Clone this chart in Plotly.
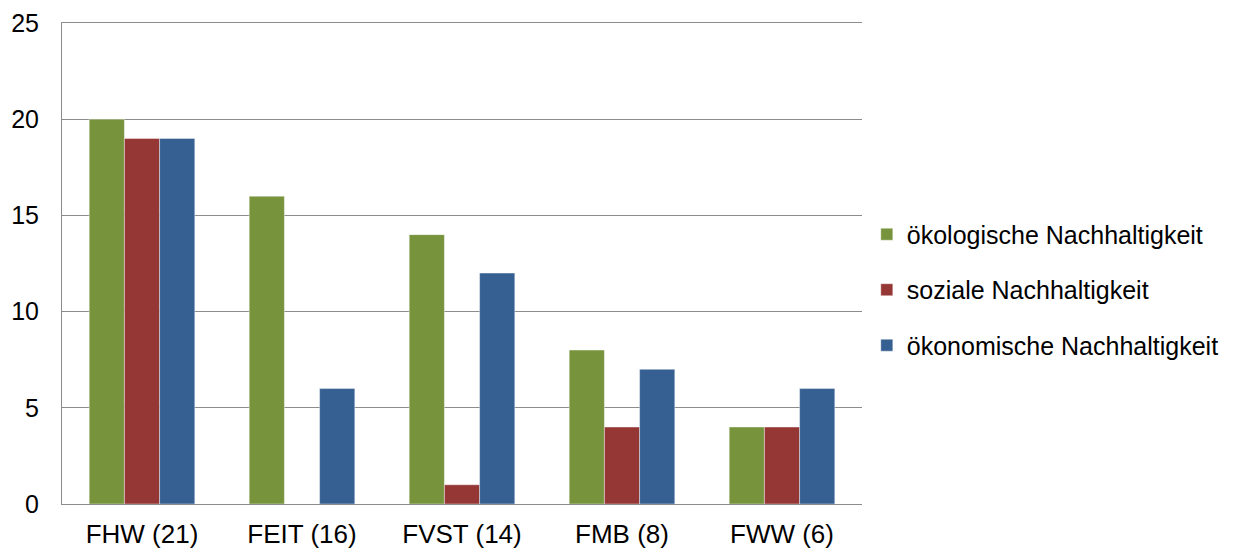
import plotly.graph_objects as go

categories = ["FHW (21)", "FEIT (16)", "FVST (14)", "FMB (8)", "FWW (6)"]
oekologisch = [20, 16, 14, 8, 4]
sozial = [19, 0, 1, 4, 4]
oekonomisch = [19, 6, 12, 7, 6]
series_names = ["ökologische Nachhaltigkeit", "soziale Nachhaltigkeit", "ökonomische Nachhaltigkeit"]
colors = ["#77933C", "#953735", "#376092"]
y_ticks = [0, 5, 10, 15, 20, 25]

fig = go.Figure()
for i, (name, vals, col) in enumerate(zip(series_names, [oekologisch, sozial, oekonomisch], colors)):
    fig.add_trace(go.Bar(
        x=categories, y=vals, name=name, legendgroup=f"g{i}",
        marker=dict(color=col, line=dict(color="rgba(255,255,255,0.5)", width=0.8)),
    ))

ff = "Liberation Sans, Arial, sans-serif"
xfont = dict(family=ff, size=26, color="#000000")
yfont = dict(family=ff, size=25, color="#000000")
fig.update_layout(
    width=1246, height=552,
    margin=dict(l=62, r=384, t=23, b=48, autoexpand=False),
    paper_bgcolor="white", plot_bgcolor="white",
    barmode="group", bargap=0.34, bargroupgap=0,
    font=xfont,
    showlegend=True,
    legend=dict(x=1.006, y=0.445, xanchor="left", yanchor="middle",
                font=dict(family=ff, size=25, color="#000"),
                traceorder="grouped", tracegroupgap=20, itemwidth=30,
                bgcolor="rgba(0,0,0,0)"),
    xaxis=dict(showgrid=False, showline=True, mirror=True, linecolor="#8C8C8C",
               linewidth=1, ticks="", tickfont=xfont,
               ticklabelstandoff=7, automargin=False),
    yaxis=dict(range=[0, 25], tickvals=y_ticks, showgrid=True, gridcolor="#8C8C8C",
               gridwidth=1, showline=True, linecolor="#8C8C8C", linewidth=1,
               zeroline=True, zerolinecolor="#8C8C8C", zerolinewidth=1,
               ticks="", tickfont=yfont, ticklabelstandoff=17, automargin=False),
)
fig.write_html("out.html", config={"displayModeBar": False},
               post_script="document.body.style.margin='0';")
